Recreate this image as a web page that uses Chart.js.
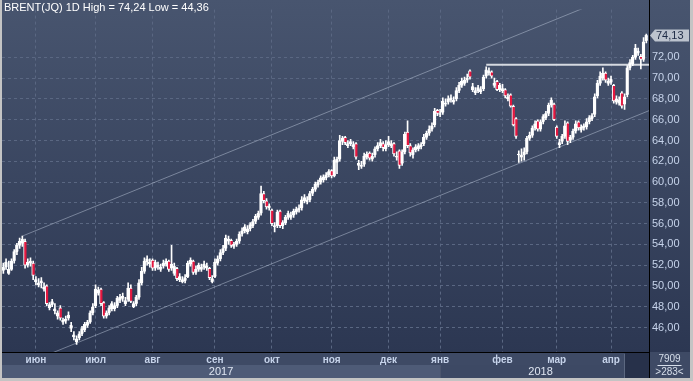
<!DOCTYPE html>
<html>
<head>
<meta charset="utf-8">
<script src="https://cdn.jsdelivr.net/npm/chart.js@4.4.1/dist/chart.umd.min.js"></script>
<style>
  html, body { margin: 0; padding: 0; background: #c4c4c4; }
  #c { display: block; }
</style>
</head>
<body>
<canvas id="c" width="693" height="381"></canvas>
<script>
// daily Brent candles, late May 2017 .. mid April 2018
var open = [
  51.5,51.8,51.2,51.6,52.4,53.3,53.9,54.1,54.3,52.0,
  52.2,52.2,50.4,50.1,50.3,49.7,50.0,47.9,48.2,47.6,
  47.1,47.9,46.5,46.6,46.9,45.9,45.1,44.6,45.0,45.4,
  45.8,46.2,46.5,47.4,48.1,49.3,49.7,48.4,47.1,47.4,
  47.8,47.8,48.1,48.6,48.8,48.3,48.7,49.8,48.0,48.3,
  48.9,50.3,51.4,52.3,52.1,52.5,51.7,51.8,51.6,51.9,
  52.1,52.4,51.7,51.2,51.7,50.6,50.4,50.5,50.9,52.1,
  52.4,51.3,51.6,51.6,51.8,51.7,51.7,50.4,50.9,52.2,
  52.6,53.2,53.6,54.3,54.4,53.8,54.0,54.3,55.0,55.3,
  55.2,55.5,55.8,56.2,56.6,57.0,58.9,58.2,57.5,57.3,
  55.7,55.8,57.2,55.8,56.1,56.6,56.6,56.8,57.1,57.3,
  57.5,58.2,58.1,58.3,58.9,59.3,59.7,60.0,60.2,60.4,
  60.7,61.1,60.6,61.9,62.2,63.9,64.3,63.5,63.7,63.4,
  63.7,61.6,61.5,61.7,62.4,62.8,62.2,62.6,63.2,63.5,
  63.7,63.2,63.6,63.5,63.7,62.4,63.0,61.8,62.9,64.8,
  63.5,62.6,63.1,63.2,63.4,63.7,64.3,64.7,65.1,65.5,
  66.9,66.5,66.7,67.5,67.7,67.9,67.7,68.0,68.8,69.3,
  69.5,69.8,70.7,68.9,68.6,68.8,68.7,69.0,70.2,70.5,
  70.6,69.3,69.7,68.9,68.8,68.9,68.0,68.4,67.3,66.1,
  62.6,62.4,62.6,62.9,64.2,64.5,65.2,65.9,65.1,65.8,
  66.2,66.6,67.4,67.5,65.3,63.6,63.9,64.4,65.7,64.0,
  64.3,64.9,65.8,65.0,65.2,65.3,65.8,66.1,66.5,68.3,
  69.5,70.0,70.5,69.5,69.6,69.3,67.7,67.6,68.6,67.5,
  68.4,71.0,71.4,72.0,72.4,72.1,71.8,73.6
];
var high = [
  52.2,52.6,52.4,52.6,53.5,54.1,54.6,54.8,54.5,52.6,
  52.7,52.4,50.9,50.7,50.8,50.3,50.1,48.4,48.7,48.3,
  47.6,48.1,46.9,47.1,47.5,46.5,45.6,45.2,45.6,46.1,
  46.5,46.7,47.6,48.3,50.1,49.9,49.8,48.5,47.6,48.1,
  48.5,48.4,49.0,49.2,49.3,48.9,50.3,50.1,48.5,49.1,
  50.6,51.8,52.7,52.9,52.6,52.6,52.5,52.3,52.1,52.5,
  52.6,52.5,53.9,52.2,51.8,51.2,50.9,51.1,52.4,52.7,
  52.5,51.9,52.2,52.1,52.4,52.2,51.8,51.0,52.6,52.9,
  53.5,53.9,54.9,54.8,54.5,54.2,54.5,55.2,55.6,55.9,
  55.8,56.1,56.4,56.9,57.2,59.6,59.1,58.4,57.9,57.4,
  56.1,57.3,57.3,56.3,56.8,57.2,57.1,57.4,57.6,57.8,
  58.6,58.8,58.6,59.1,59.5,60.0,60.2,60.6,60.7,60.9,
  61.2,61.2,62.4,62.4,64.5,64.4,64.4,64.0,64.1,63.9,
  63.8,62.1,62.0,62.8,62.9,62.9,62.8,63.4,63.8,64.1,
  63.9,64.0,64.4,64.0,63.8,62.9,63.1,63.1,64.8,65.9,
  63.7,63.3,63.6,63.7,63.8,64.6,64.9,65.4,65.7,67.1,
  67.0,67.0,68.1,68.0,68.3,68.4,68.2,69.1,69.6,70.0,
  70.1,70.4,70.8,69.5,69.1,69.3,69.2,70.3,71.1,71.0,
  70.7,70.0,69.8,69.5,69.4,69.0,68.5,68.5,67.4,66.2,
  63.0,63.2,63.3,64.4,64.8,65.4,65.9,66.0,66.0,66.5,
  66.8,67.6,68.1,67.6,65.4,64.1,64.6,65.9,65.8,64.5,
  65.1,65.9,65.9,65.5,65.6,66.1,66.4,66.6,68.5,69.8,
  70.6,71.0,70.6,70.0,70.2,69.4,68.3,68.2,68.7,68.5,
  71.2,71.8,72.2,73.25,72.9,72.3,73.9,74.24
];
var low = [
  51.2,51.6,51.1,51.5,52.2,53.0,53.6,53.8,51.7,51.8,
  51.9,50.6,50.1,49.9,49.8,49.5,48.1,47.7,48.0,47.3,
  46.8,46.7,46.3,46.4,46.7,45.6,44.8,44.36,44.8,45.2,
  45.6,46.0,46.4,47.2,47.9,49.1,48.1,46.9,46.9,47.2,
  47.6,47.6,47.9,48.4,48.5,48.1,48.5,48.4,47.9,48.1,
  48.7,50.1,51.2,52.0,51.8,51.5,51.5,51.6,51.4,51.7,
  51.9,51.4,51.5,51.0,50.5,50.4,50.3,50.3,50.8,51.9,
  51.1,51.1,51.4,51.4,51.6,51.5,50.6,50.3,50.8,52.0,
  52.4,53.0,53.4,54.0,53.7,53.6,53.8,54.1,54.8,55.1,
  55.0,55.3,55.6,56.0,56.4,56.8,58.0,57.4,57.3,55.8,
  55.2,55.6,55.6,55.5,55.9,56.4,56.4,56.6,56.9,57.1,
  57.3,58.0,57.9,58.1,58.7,59.1,59.5,59.8,60.0,60.2,
  60.5,60.4,60.5,60.8,62.0,63.6,63.6,63.3,63.5,63.2,
  62.2,61.2,61.3,61.5,62.2,62.1,62.0,62.4,63.0,63.3,
  63.0,63.0,63.4,63.3,62.5,62.1,61.3,61.6,62.7,63.3,
  62.5,62.3,62.9,63.0,63.2,63.5,64.1,64.5,64.9,65.3,
  66.4,66.3,66.5,67.3,67.5,67.7,67.5,67.8,68.6,69.1,
  69.3,69.6,69.9,68.7,68.4,68.6,68.5,68.8,70.0,70.3,
  70.0,69.1,68.8,68.7,68.6,68.1,67.8,67.2,65.4,64.2,
  61.9,62.0,62.1,62.7,64.0,64.3,65.0,64.9,64.9,65.6,
  66.0,66.4,67.2,65.9,64.2,63.3,63.7,64.2,63.6,63.8,
  64.1,64.7,65.0,64.8,65.0,65.1,65.6,65.9,66.3,68.1,
  69.3,69.8,69.6,69.3,69.4,67.6,67.5,67.4,67.1,67.0,
  68.2,70.8,71.2,71.8,72.2,70.9,71.6,73.4
];
var close = [
  51.8,52.3,51.6,52.4,53.3,53.9,54.3,54.5,52.0,52.3,
  52.4,51.0,50.6,50.3,50.5,49.9,48.3,48.2,48.5,47.8,
  47.4,46.9,46.7,46.8,47.2,46.2,45.3,44.9,45.4,45.9,
  46.3,46.5,47.4,48.0,49.7,49.6,48.3,47.1,47.4,47.9,
  48.3,48.1,48.8,48.9,49.0,48.6,49.8,48.5,48.3,48.9,
  50.3,51.4,52.4,52.6,52.3,51.7,52.3,52.0,51.8,52.2,
  52.4,51.6,52.1,51.9,50.7,50.9,50.6,50.8,52.2,52.5,
  51.3,51.6,52.0,51.8,52.1,51.9,50.8,50.7,52.3,52.6,
  53.2,53.6,54.6,54.5,53.9,54.0,54.3,55.0,55.3,55.7,
  55.5,55.9,56.2,56.7,57.0,58.9,58.2,57.6,57.7,56.0,
  55.8,57.1,55.8,56.1,56.6,57.0,56.8,57.2,57.4,57.5,
  58.3,58.5,58.3,58.9,59.3,59.8,60.0,60.4,60.5,60.7,
  61.0,60.6,62.1,62.2,64.0,64.2,63.8,63.7,63.9,63.6,
  62.4,61.8,61.6,62.5,62.7,62.3,62.5,63.2,63.5,63.8,
  63.3,63.6,63.9,63.7,62.7,62.5,61.6,62.9,64.6,63.5,
  62.8,63.1,63.4,63.5,63.6,64.3,64.7,65.1,65.4,66.8,
  66.6,66.6,67.8,67.6,68.0,68.1,67.9,68.8,69.3,69.7,
  69.8,70.0,70.1,69.2,68.8,69.1,68.9,70.1,70.8,70.7,
  70.2,69.5,68.9,69.3,69.0,68.3,68.2,67.3,65.5,64.4,
  62.7,62.6,62.9,64.2,64.5,65.2,65.6,65.1,65.8,66.3,
  66.6,67.4,67.9,66.0,64.4,63.8,64.4,65.4,63.9,64.3,
  64.9,65.6,65.2,65.3,65.4,65.8,66.2,66.4,68.2,69.5,
  70.2,70.5,69.8,69.7,69.9,67.8,68.0,67.9,67.3,68.2,
  71.0,71.5,72.0,72.9,72.6,71.8,73.5,74.13
];

// first trading day of each month (candle index) and its label
var monthStart = [12, 34, 55, 78, 99, 121, 142, 161, 184, 204, 224];
var monthLabels = ["июн", "июл", "авг", "сен", "окт", "ноя", "дек", "янв", "фев", "мар", "апр"];
var years = ["2017", "2018"];
var yearBreak = 161; // first candle of 2018

var priceTicks = [46, 48, 50, 52, 54, 56, 58, 60, 62, 64, 66, 68, 70, 72];

// trend lines as [candle index, price]
var upperChannel = [[7, 54.8], [238, 79.3]];
var lowerChannel = [[18, 43.55], [238, 66.87]];
var resistance = [[178, 71.3], [238.5, 71.3]];

var fmt = function (v) { return v.toFixed(2).replace(".", ","); };
var toPts = function (arr) { return arr.map(function (p) { return { x: p[0], y: p[1] }; }); };

var wicks = [], bodies = [], bodyColors = [];
for (var i = 0; i < close.length; i++) {
  wicks.push({ x: i, y: [low[i], high[i]] });
  bodies.push({ x: i, y: [open[i], close[i]] });
  bodyColors.push(close[i] < open[i] ? "#e3173f" : "#ffffff");
}

var chrome = {
  id: "chrome",
  beforeDraw: function (chart) {
    var ctx = chart.ctx, a = chart.chartArea, W = chart.width;
    var xs = chart.scales.x;
    ctx.save();
    var g = ctx.createLinearGradient(0, 0, 0, a.bottom);
    g.addColorStop(0, "#48556f");
    g.addColorStop(1, "#2c3752");
    ctx.fillStyle = g;
    ctx.fillRect(0, 0, W, a.bottom);
    // month band
    ctx.fillStyle = "#3e4a65";
    ctx.fillRect(0, a.bottom, W, 13);
    // year band
    var jan = xs.getPixelForValue(yearBreak);
    ctx.fillStyle = "#4e5b77";
    ctx.fillRect(0, a.bottom + 13, jan, 13);
    ctx.fillStyle = "#3d4964";
    ctx.fillRect(jan, a.bottom + 13, W - jan, 13);
    // scroll stub
    ctx.fillStyle = "#27314a";
    ctx.fillRect(a.right - 24, a.bottom + 1, 24, 25);
    ctx.fillStyle = "#5c6880";
    ctx.fillRect(a.right - 25, a.bottom + 2, 1, 24);
    // corner box
    ctx.fillStyle = "#3e4a65";
    ctx.fillRect(a.right + 1, a.bottom + 1, W - a.right, 25);
    ctx.restore();
  },
  afterDraw: function (chart) {
    var ctx = chart.ctx, a = chart.chartArea, W = chart.width, H = chart.height;
    var xs = chart.scales.x, ys = chart.scales.y;
    ctx.save();
    // title
    ctx.font = "11px 'Liberation Sans', Arial, sans-serif";
    ctx.fillStyle = "#ffffff";
    ctx.textBaseline = "middle";
    ctx.textAlign = "left";
    ctx.fillText("BRENT(JQ) 1D High = " + fmt(Math.max.apply(null, high)) +
      " Low = " + fmt(Math.min.apply(null, low)), 4, 8);
    // years
    var jan = xs.getPixelForValue(yearBreak);
    ctx.font = "11px 'Liberation Sans', Arial, sans-serif";
    ctx.fillStyle = "#dfe6f2";
    ctx.textAlign = "center";
    ctx.fillText(years[0], (a.left + jan) / 2, a.bottom + 20);
    ctx.fillText(years[1], (jan + a.right) / 2 - 4, a.bottom + 20);
    // last price tag
    var last = close[close.length - 1];
    var y = Math.round(ys.getPixelForValue(last)) + 0.5;
    ctx.fillStyle = "#bcc3ce";
    ctx.beginPath();
    ctx.moveTo(a.right + 1, y);
    ctx.lineTo(a.right + 6, y - 6);
    ctx.lineTo(W - 4, y - 6);
    ctx.lineTo(W - 4, y + 6);
    ctx.lineTo(a.right + 6, y + 6);
    ctx.closePath();
    ctx.fill();
    ctx.fillStyle = "#1d2a45";
    ctx.textAlign = "left";
    ctx.fillText(fmt(last), a.right + 7, y);
    // corner box texts
    ctx.fillStyle = "#d6deea";
    ctx.font = "10px 'Liberation Sans', Arial, sans-serif";
    ctx.textAlign = "center";
    var cx = (a.right + W - 3) / 2;
    ctx.fillText("7909", cx, a.bottom + 7);
    ctx.fillText(">283<", cx, a.bottom + 20);
    ctx.fillRect(cx - 12, a.bottom + 13, 24, 1);
    // black separators
    ctx.fillStyle = "#000000";
    ctx.fillRect(a.right, 0, 1, H - 3);
    ctx.fillRect(0, a.bottom, a.right, 1);
    // outer frame
    ctx.fillStyle = "#c4c4c4";
    ctx.fillRect(0, 0, 2, H);
    ctx.fillRect(0, H - 3, W, 3);
    ctx.fillRect(W - 3, 0, 3, H);
    ctx.restore();
  }
};

var ctx = document.getElementById("c").getContext("2d");
var chart = new Chart(ctx, {
  data: {
    datasets: [
      {
        type: "line", data: toPts(upperChannel),
        borderColor: "rgba(200,210,228,0.45)", borderWidth: 1,
        pointRadius: 0, order: 4
      },
      {
        type: "line", data: toPts(lowerChannel),
        borderColor: "rgba(200,210,228,0.45)", borderWidth: 1,
        pointRadius: 0, order: 4
      },
      {
        type: "line", data: toPts(resistance),
        borderColor: "#d5d9e0", borderWidth: 2,
        pointRadius: 0, order: 3
      },
      {
        type: "bar", data: wicks,
        backgroundColor: "#ffffff", barThickness: 1,
        grouped: false, order: 2
      },
      {
        type: "bar", data: bodies,
        backgroundColor: bodyColors, borderColor: "#ffffff",
        borderWidth: { left: 1, right: 0, top: 1, bottom: 1 }, borderSkipped: false,
        barThickness: 3, minBarLength: 1,
        grouped: false, order: 1
      }
    ]
  },
  options: {
    responsive: false,
    animation: false,
    devicePixelRatio: 1,
    layout: { padding: { left: 2, top: 1, right: 0, bottom: 0 } },
    plugins: { legend: { display: false }, tooltip: { enabled: false } },
    scales: {
      x: {
        type: "linear", min: -0.5, max: 238, offset: false,
        afterBuildTicks: function (s) { s.ticks = monthStart.map(function (v) { return { value: v }; }); },
        afterFit: function (s) { s.height = 29; },
        grid: { color: "#5a6782", drawTicks: false, offset: false },
        border: { display: false, dash: [3, 3] },
        ticks: {
          autoSkip: false, maxRotation: 0, padding: 2,
          color: "#c6d3ea",
          font: { family: "'Liberation Sans', Arial, sans-serif", size: 10, weight: "bold" },
          callback: function (v) { return monthLabels[monthStart.indexOf(v)]; }
        }
      },
      y: {
        position: "right", min: 43.64, max: 76.6,
        afterBuildTicks: function (s) { s.ticks = priceTicks.map(function (v) { return { value: v }; }); },
        afterFit: function (s) { s.width = 44; },
        grid: { color: "#5a6782", drawTicks: false },
        border: { display: false, dash: [3, 3] },
        ticks: {
          padding: 3, color: "#c6d3ea",
          font: { family: "'Liberation Sans', Arial, sans-serif", size: 11 },
          callback: function (v) { return fmt(v); }
        }
      }
    }
  },
  plugins: [chrome]
});
</script>
</body>
</html>
